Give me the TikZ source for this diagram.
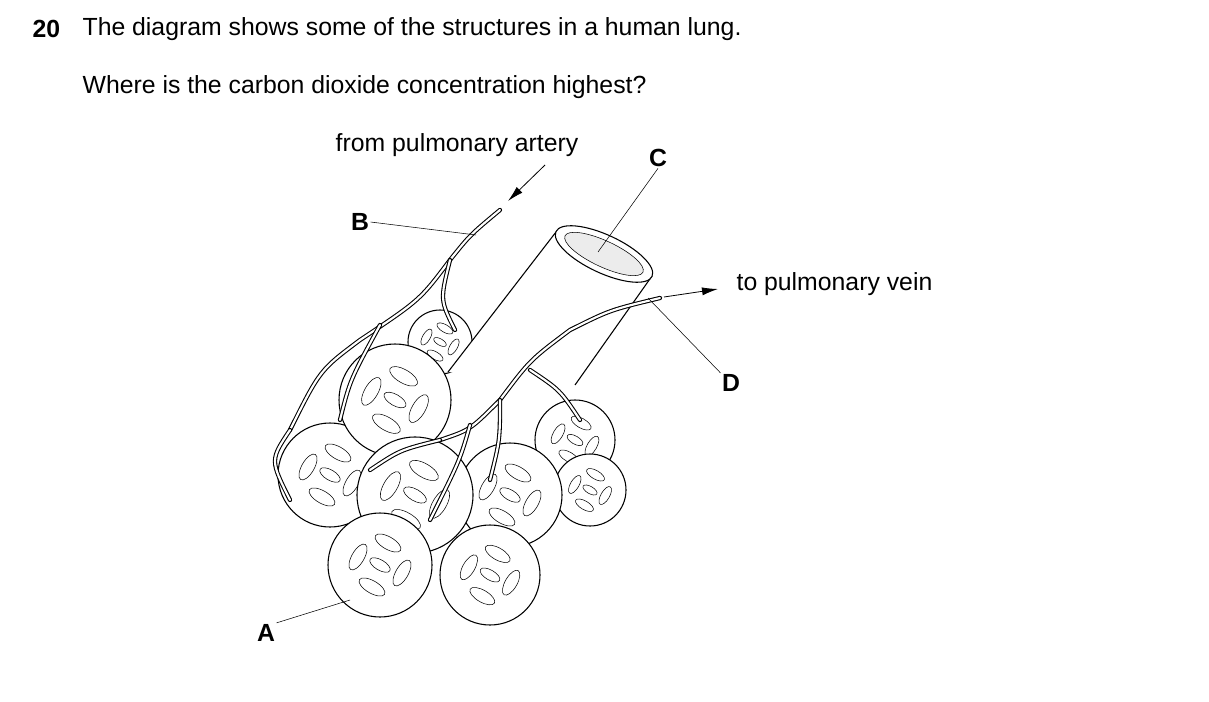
\documentclass[tikz,border=0pt]{standalone}
\usepackage{fontspec}
\setmainfont{Liberation Sans}
\usetikzlibrary{arrows.meta,positioning,calc}
\tikzset{
  lbl/.style={font=\fontsize{18.6}{22}\selectfont, inner sep=1pt},
  bold lbl/.style={lbl, font=\fontsize{18.6}{22}\selectfont\bfseries},
  alv/.style={draw, thick, fill=white},
  vessel/.style={line width=3.2pt, line cap=round},
  vesselin/.style={white, line width=1.6pt, line cap=round},
  pointer/.style={thin},
  flow/.style={-{Latex[length=12pt,width=6pt]}, semithick}
}
\newcommand{\vsl}[1]{\draw[vessel] #1; \draw[vesselin] #1;}
\newcommand{\mesh}[3]{% centre x, centre y, radius
  \foreach \a in {20,110,200,290} {
    \draw[thin] ($(#1,#2)+(\a:#3*0.45)$) ellipse [x radius=#3*0.28, y radius=#3*0.12, rotate=\a+40];
  }
  \draw[thin] (#1,#2) ellipse [x radius=#3*0.22, y radius=#3*0.1, rotate=-30];
}
\begin{document}
\begin{tikzpicture}[x=0.75pt,y=-0.75pt]
\useasboundingbox (0,0) rectangle (1209,702);

% Question text
\node[bold lbl, anchor=west] (num) at (31,29) {20};
\node[lbl, anchor=west] (q1) at (81,29) {The diagram shows some of the structures in a human lung.};
\node[lbl, anchor=west] (q2) at (81,87) {Where is the carbon dioxide concentration highest?};

% Small back alveolus
\draw[alv] (440,342) circle (32);
\mesh{440}{342}{32}

% Bronchiole tube
\fill[white] (556,232) -- (652,276) -- (575,385) -- (448,372) -- cycle;
\draw[thick] (556,232) -- (448,372);
\draw[thick] (652,276) -- (575,385);
\draw[thick, fill=white] (604,254) ellipse [x radius=53, y radius=19, rotate=-25];
\draw[thin, fill=gray!15] (604,254) ellipse [x radius=43, y radius=13, rotate=-25];

% Alveoli (back to front)
\foreach \x/\y/\r in {575/440/40, 590/490/36, 330/475/52, 510/495/52, 395/400/56, 415/495/58, 490/575/50, 380/565/52} {
  \draw[alv] (\x,\y) circle (\r);
  \mesh{\x}{\y}{\r}
}

% Capillaries: arteriole and venule
\vsl{(500,210) .. controls (470,235) .. (450,260) .. controls (420,300) .. (360,340) .. controls (320,370) .. (290,430)}
\vsl{(450,260) .. controls (440,300) .. (455,330)}
\vsl{(380,325) .. controls (350,380) .. (340,420)}
\vsl{(290,430) .. controls (270,460) .. (290,500)}
\vsl{(660,298) .. controls (610,310) .. (570,330) .. controls (530,360) .. (500,400) .. controls (470,430) .. (440,440)}
\vsl{(500,400) .. controls (500,440) .. (490,480)}
\vsl{(530,370) .. controls (560,390) .. (580,420)}
\vsl{(440,440) .. controls (400,450) .. (370,470)}
\vsl{(470,425) .. controls (460,460) .. (430,520)}

% Labels and pointer lines
\node[lbl] (fpa) at (457,145) {from pulmonary artery};
\coordinate (fpaS) at (545,165);
\coordinate (fpaE) at (508,201);
\draw[flow] (fpaS) -- (fpaE);

\node[lbl] (tpv) [anchor=west] at (735,284) {to pulmonary vein};
\coordinate (tpvS) at (664,297);
\coordinate (tpvE) at (718,289);
\draw[flow] (tpvS) -- (tpvE);

\node[bold lbl] (C) at (658,158) {C};
\coordinate (Cend) at (598,252);
\draw[pointer] (C.south) -- (Cend);

\node[bold lbl] (B) at (360,222) {B};
\coordinate (Bend) at (476,235);
\draw[pointer] (B.east) -- (Bend);

\node[bold lbl] (D) at (731,383) {D};
\coordinate (Dend) at (648,298);
\draw[pointer] (D.north west) -- (Dend);

\node[bold lbl] (A) at (266,633) {A};
\coordinate (Aend) at (350,600);
\draw[pointer] (A.north east) -- (Aend);
\end{tikzpicture}
\end{document}
